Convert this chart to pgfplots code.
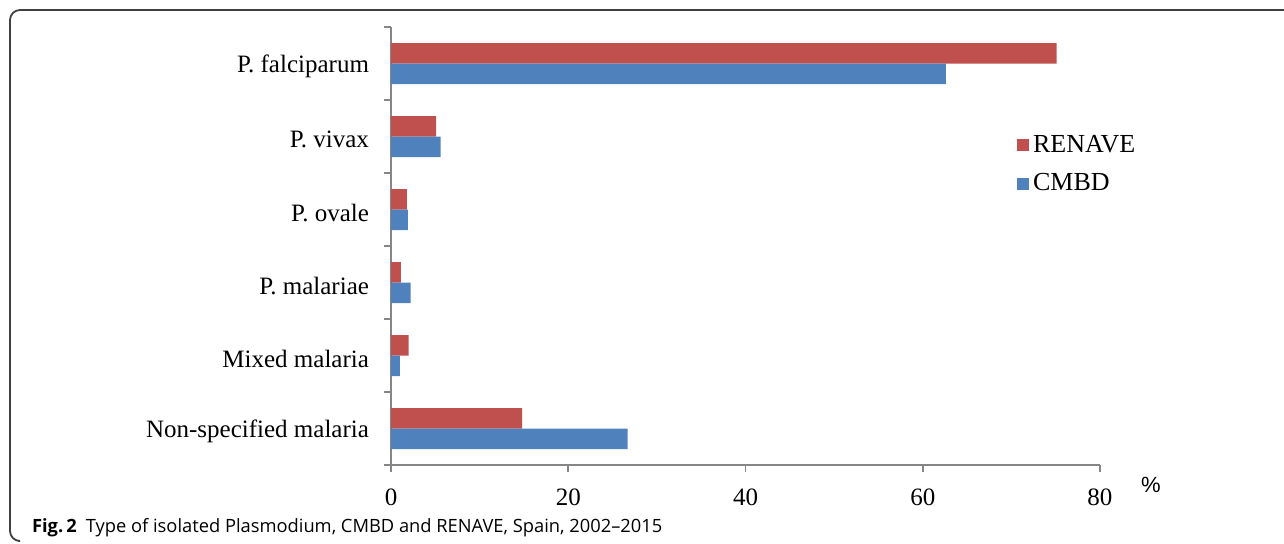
\documentclass[border=0pt]{standalone}
\usepackage{fontspec}
\setmainfont{Liberation Serif}
\newfontfamily\capfont[Ligatures=TeX]{Open Sans}
\newfontfamily\pctfont{Liberation Sans}
\usepackage{pgfplots}
\pgfplotsset{compat=1.18}
\definecolor{renave}{HTML}{C0504D}
\definecolor{cmbd}{HTML}{4F81BD}
\definecolor{axgray}{HTML}{868686}

\begin{document}
\begin{tikzpicture}
\useasboundingbox (0,0) rectangle (642pt,271.5pt);
% rounded frame around the figure
\draw[line width=0.9pt, black!75, rounded corners=5pt] (642pt,266.5pt) -- (5pt,266.5pt) -- (5pt,1pt) -- (9pt,1pt);

\begin{axis}[
    at={(195.5pt,39pt)}, anchor=south west,
    scale only axis,
    width=354.5pt, height=219pt,
    xbar, bar width=10.25pt,
    xmin=0, xmax=80,
    ymin=-0.5, ymax=5.5,
    axis lines=left,
    axis line style={-, axgray, line width=0.8pt},
    tick align=outside,
    major tick length=3.5pt, minor tick length=3.5pt,
    tick style={axgray, line width=0.8pt},
    every major y tick/.append style={draw=none},
    xtick={0,20,40,60,80},
    ytick={0,1,2,3,4,5},
    minor ytick={-0.5,0.5,1.5,2.5,3.5,4.5,5.5},
    yticklabels={Non-specified malaria, Mixed malaria, P. malariae, P. ovale, P. vivax, P. falciparum},
    ticklabel style={font=\fontsize{12.5}{14}\selectfont},
    /pgf/number format/assume math mode=true,
    xticklabel style={yshift=-5pt},
    yticklabel style={xshift=-4pt, yshift=-1.5pt},
    legend style={at={(0.874,0.772)}, anchor=north west, draw=none, fill=none,
        font=\fontsize{13}{15}\selectfont, row sep=5pt,
        /tikz/every even column/.append style={column sep=3pt}},
    legend cell align=left,
    legend image code/.code={\fill[#1] (0pt,-3pt) rectangle (6pt,3pt);},
]
% RENAVE
\addplot[fill=renave, draw=none, bar shift=5.125pt] coordinates {
    (75.1,5) (5.1,4) (1.8,3) (1.1,2) (2.0,1) (14.8,0)
};
\addlegendentry{RENAVE}
% CMBD
\addplot[fill=cmbd, draw=none, bar shift=-5.125pt] coordinates {
    (62.6,5) (5.6,4) (1.9,3) (2.2,2) (1.0,1) (26.7,0)
};
\addlegendentry{CMBD}
\end{axis}

\node[font=\pctfont\fontsize{11}{13}\selectfont] at (575.5pt,29pt) {\%};
\node[anchor=base west, font=\capfont\fontsize{9.15}{11}\selectfont] at (12.5pt,5.5pt)
    {\textbf{Fig.\,2}\enspace Type of isolated Plasmodium, CMBD and RENAVE, Spain, 2002–2015};
\end{tikzpicture}
\end{document}
